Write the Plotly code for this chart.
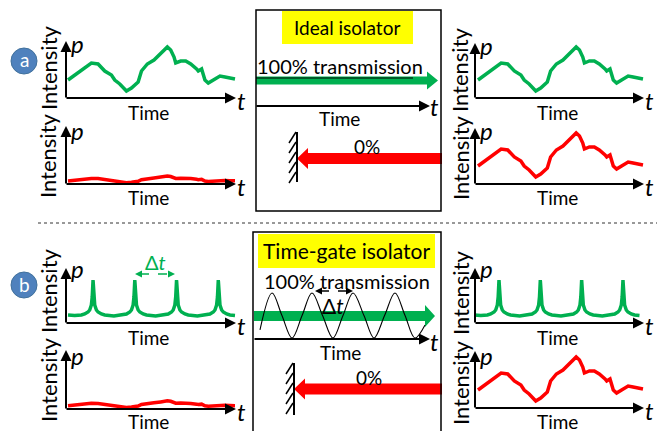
import plotly.graph_objects as go

W, H = 659, 431

# ---------------- data ----------------
# fluctuating optical signal (time in %, intensity in arbitrary units)
sig_t = [0, 7, 14, 18, 22, 26, 28, 31, 35, 38, 42, 44, 47.5, 51.5, 55.5, 59.5,
         61.5, 63.5, 64.5, 67.5, 70.5, 73.5, 77, 78, 80, 82, 84, 87, 91, 94, 97, 100]
sig_i = [18, 27, 35, 34, 27, 23, 18, 14, 7, 10, 16, 27, 34, 38, 44, 51,
         48, 41, 35, 37, 37, 34, 29, 27, 29, 18, 15, 18, 22, 21, 20, 19]

# periodic pulse train after the time gate
pulse_t = [0, 4, 8, 10, 12, 13, 14, 14.5, 15, 15.5, 16, 17, 18, 20, 22, 27.5,
           33, 35, 37, 38, 39, 39.5, 40, 40.5, 41, 42, 43, 45, 47, 52.5,
           58, 60, 62, 63, 64, 64.5, 65, 65.5, 66, 67, 68, 70, 72, 77.5,
           83, 85, 87, 88, 89, 89.5, 90, 90.5, 91, 92, 93, 95, 97, 100]
pulse_i = [8, 7.5, 8, 9, 11, 13, 18, 26, 43, 26, 18, 13, 11, 9, 8, 7,
           8, 9, 11, 13, 18, 26, 43, 26, 18, 13, 11, 9, 8, 7,
           8, 9, 11, 13, 18, 26, 43, 26, 18, 13, 11, 9, 8, 7,
           8, 9, 11, 13, 18, 26, 43, 26, 18, 13, 11, 9, 8, 7.5]

# time-gate modulation (peaks / zero crossings / troughs)
gate_t = [0, 7.3, 13.3, 19.4, 25.5, 31.5, 37.9, 44.2, 50.3, 56.4, 63, 69.1,
          75.5, 81.8, 87.9, 93.9, 100]
gate_v = [-0.64, 1, 0, -1, 0, 1, 0, -1, 0, 1, 0, -1, 0, 1, 0, -1, -0.42]

GREEN = "#00B050"
RED = "#FF0000"
FONT = "Lato"


def X(px):
    return px / W


def Y(py):
    return 1 - py / H


fig = go.Figure()
layout = {}
shapes = []
ann = []

# ------------- data subplots (pixel mapping: x_px = x0 + sx*t, y_px = y0 - sy*v) -----
subplots = [
    # t, v, color, width, x0, sx, y0, sy, shape
    (sig_t, sig_i, GREEN, 3.5, 68, 1.67, 98, 1.0, "linear"),
    (sig_t, sig_i, RED, 3.5, 68, 1.67, 183.7, 0.15, "linear"),
    (sig_t, sig_i, GREEN, 3.5, 478, 1.65, 98, 1.0, "linear"),
    (sig_t, sig_i, RED, 3.5, 478, 1.65, 184, 1.0, "linear"),
    (pulse_t, pulse_i, GREEN, 3.5, 68, 1.67, 323, 1.0, "linear"),
    (sig_t, sig_i, RED, 3.5, 68, 1.67, 408.5, 0.15, "linear"),
    (pulse_t, pulse_i, GREEN, 3.5, 474.2, 1.653, 323, 1.0, "linear"),
    (sig_t, sig_i, RED, 3.5, 478, 1.65, 408, 1.0, "linear"),
    (gate_t, gate_v, "black", 1.1, 260, 1.65, 315.5, 22.5, "spline"),
]

for k, (t, v, col, lw, x0, sx, y0, sy, shp) in enumerate(subplots, start=1):
    sfx = "" if k == 1 else str(k)
    L = x0 + sx * min(t) - 8
    R = x0 + sx * max(t) + 8
    T = y0 - sy * max(v) - 8
    B = y0 - sy * min(v) + 8
    layout["xaxis" + sfx] = dict(domain=[X(L), X(R)],
                                 range=[(L - x0) / sx, (R - x0) / sx],
                                 visible=False, fixedrange=True, anchor="y" + sfx)
    layout["yaxis" + sfx] = dict(domain=[Y(B), Y(T)],
                                 range=[(y0 - B) / sy, (y0 - T) / sy],
                                 visible=False, fixedrange=True, anchor="x" + sfx)
    fig.add_trace(go.Scatter(x=t, y=v, mode="lines", xaxis="x" + sfx, yaxis="y" + sfx,
                             line=dict(color=col, width=lw, shape=shp),
                             hoverinfo="skip", showlegend=False))


# ---------------- helpers ----------------
def text(x, y, s, size=18, color="black", angle=0):
    ann.append(dict(x=X(x), y=Y(y), xref="paper", yref="paper", text=s, showarrow=False,
                    xanchor="center", yanchor="middle", textangle=angle,
                    font=dict(family=FONT, size=size, color=color)))


def axis_arrow(xt, yt, xh, yh):
    ann.append(dict(x=X(xh), y=Y(yh), xref="paper", yref="paper", text="",
                    ax=xt - xh, ay=yt - yh, axref="pixel", ayref="pixel",
                    showarrow=True, arrowhead=2, arrowsize=1.1, arrowwidth=2,
                    arrowcolor="black", standoff=0))


def line(x0, y0, x1, y1, color="black", width=1.5, dash="solid"):
    shapes.append(dict(type="line", xref="paper", yref="paper", x0=X(x0), y0=Y(y0),
                       x1=X(x1), y1=Y(y1), line=dict(color=color, width=width, dash=dash)))


def poly(pts, color):
    p = "M " + " L ".join(f"{X(a):.5f},{Y(b):.5f}" for a, b in pts) + " Z"
    shapes.append(dict(type="path", xref="paper", yref="paper", path=p,
                       fillcolor=color, line=dict(width=0), layer="below"))


def thick_arrow(x_tail, x_tip, yc, sh, hh, hl, color):
    d = 1 if x_tip > x_tail else -1
    xb = x_tip - d * hl
    poly([(x_tail, yc - sh), (xb, yc - sh), (xb, yc - hh), (x_tip, yc),
          (xb, yc + hh), (xb, yc + sh), (x_tail, yc + sh)], color)


def dashed_double(x0, x1, y, color):
    line(x0 + 5, y, x1 - 5, y, color=color, width=1.5, dash="dash")
    poly([(x0, y), (x0 + 7, y - 3.5), (x0 + 7, y + 3.5)], color)
    poly([(x1, y), (x1 - 7, y - 3.5), (x1 - 7, y + 3.5)], color)


def mirror(xm, y0, y1):
    line(xm, y0, xm, y1, width=2)
    yy = y0
    while yy + 11 <= y1 + 1:
        line(xm - 1, yy, xm - 8, yy + 11, width=1.5)
        yy += 10


def small_panel(xa, ya, ytop, xend, p_y, t_y, time_y, int_y, int_x, t_x=None):
    axis_arrow(xa, ya + 1, xa, ytop)
    axis_arrow(xa - 1, ya, xend, ya)
    text(xa + 11, p_y, "<i>p</i>", size=24)
    text(t_x if t_x else xend + 5, t_y, "<i>t</i>", size=24)
    text(xa + 82, time_y, "Time", size=19)
    text(int_x, int_y, "Intensity", size=22, angle=-90)


# ---------------- panel a ----------------
small_panel(66, 98, 41, 236, 44, 100, 112, 68, 48)
small_panel(66, 184, 126, 236, 130, 186, 198, 156, 48)
small_panel(475, 98, 43, 644, 45, 100, 112, 70, 460, 649)
small_panel(475, 184, 128, 644, 130, 186, 198, 158, 460, 649)

shapes.append(dict(type="rect", xref="paper", yref="paper", x0=X(256), y0=Y(211),
                   x1=X(441), y1=Y(10), line=dict(color="black", width=1.5)))
shapes.append(dict(type="rect", xref="paper", yref="paper", x0=X(282), y0=Y(44),
                   x1=X(413), y1=Y(11), fillcolor="#FFFF00", line=dict(width=0),
                   layer="below"))
text(347, 28, "Ideal isolator", size=19)
text(340, 66, "100% transmission", size=20)
thick_arrow(256, 438, 80.5, 4, 9, 11, GREEN)
line(256, 78, 413, 78, width=1)
axis_arrow(255, 106, 430, 106)
text(434, 107, "<i>t</i>", size=24)
text(339, 119, "Time", size=19)
mirror(297, 132, 182)
thick_arrow(442, 297, 158.5, 5.5, 10.5, 11, RED)
text(367, 146, "0%", size=19)

# separator
line(38, 223, 657, 223, color="#333333", width=1, dash="dot")

# ---------------- panel b ----------------
small_panel(66, 323, 268, 236, 268, 325, 337, 291, 48)
small_panel(66, 409, 350, 236, 355, 411, 421, 380, 48)
small_panel(475, 323, 268, 644, 268, 325, 337, 293, 460, 649)
small_panel(475, 408, 351, 644, 355, 410, 421, 383, 460, 649)

dashed_double(135, 175, 274, GREEN)
text(155, 262, "Δ<i>t</i>", size=20, color=GREEN)

shapes.append(dict(type="rect", xref="paper", yref="paper", x0=X(253), y0=Y(445),
                   x1=X(441), y1=Y(232), line=dict(color="black", width=1.5)))
shapes.append(dict(type="rect", xref="paper", yref="paper", x0=X(258), y0=Y(268),
                   x1=X(435), y1=Y(234), fillcolor="#FFFF00", line=dict(width=0),
                   layer="below"))
text(346, 251, "Time-gate isolator", size=21)
text(347, 281, "100% transmission", size=20)
thick_arrow(254, 435, 316, 5, 11, 10, GREEN)
dashed_double(315, 353, 291, "black")
text(333, 305, "Δ<i>t</i>", size=21)
axis_arrow(253, 339, 430, 339)
text(434, 341, "<i>t</i>", size=24)
text(340, 352, "Time", size=19)
mirror(294, 363, 415)
thick_arrow(442, 294, 389, 5.5, 10.5, 11, RED)
text(369, 377, "0%", size=19)

# circles a / b
for cy, lab in [(61, "a"), (285, "b")]:
    shapes.append(dict(type="circle", xref="paper", yref="paper",
                       x0=X(11), x1=X(37), y0=Y(cy + 13), y1=Y(cy - 13),
                       fillcolor="#4F81BD", line=dict(color="#41719C", width=1)))
    text(24, cy - 1, lab, size=19, color="white")

layout.update(dict(width=W, height=H, margin=dict(l=0, r=0, t=0, b=0),
                   paper_bgcolor="white", plot_bgcolor="rgba(0,0,0,0)",
                   showlegend=False, shapes=shapes, annotations=ann,
                   font=dict(family=FONT)))
fig.update_layout(**layout)
fig.write_html("out.html", config={"displayModeBar": False},
               post_script="document.body.style.margin='0px';"
                           "document.body.style.padding='0px';"
                           "document.body.style.overflow='hidden';")
